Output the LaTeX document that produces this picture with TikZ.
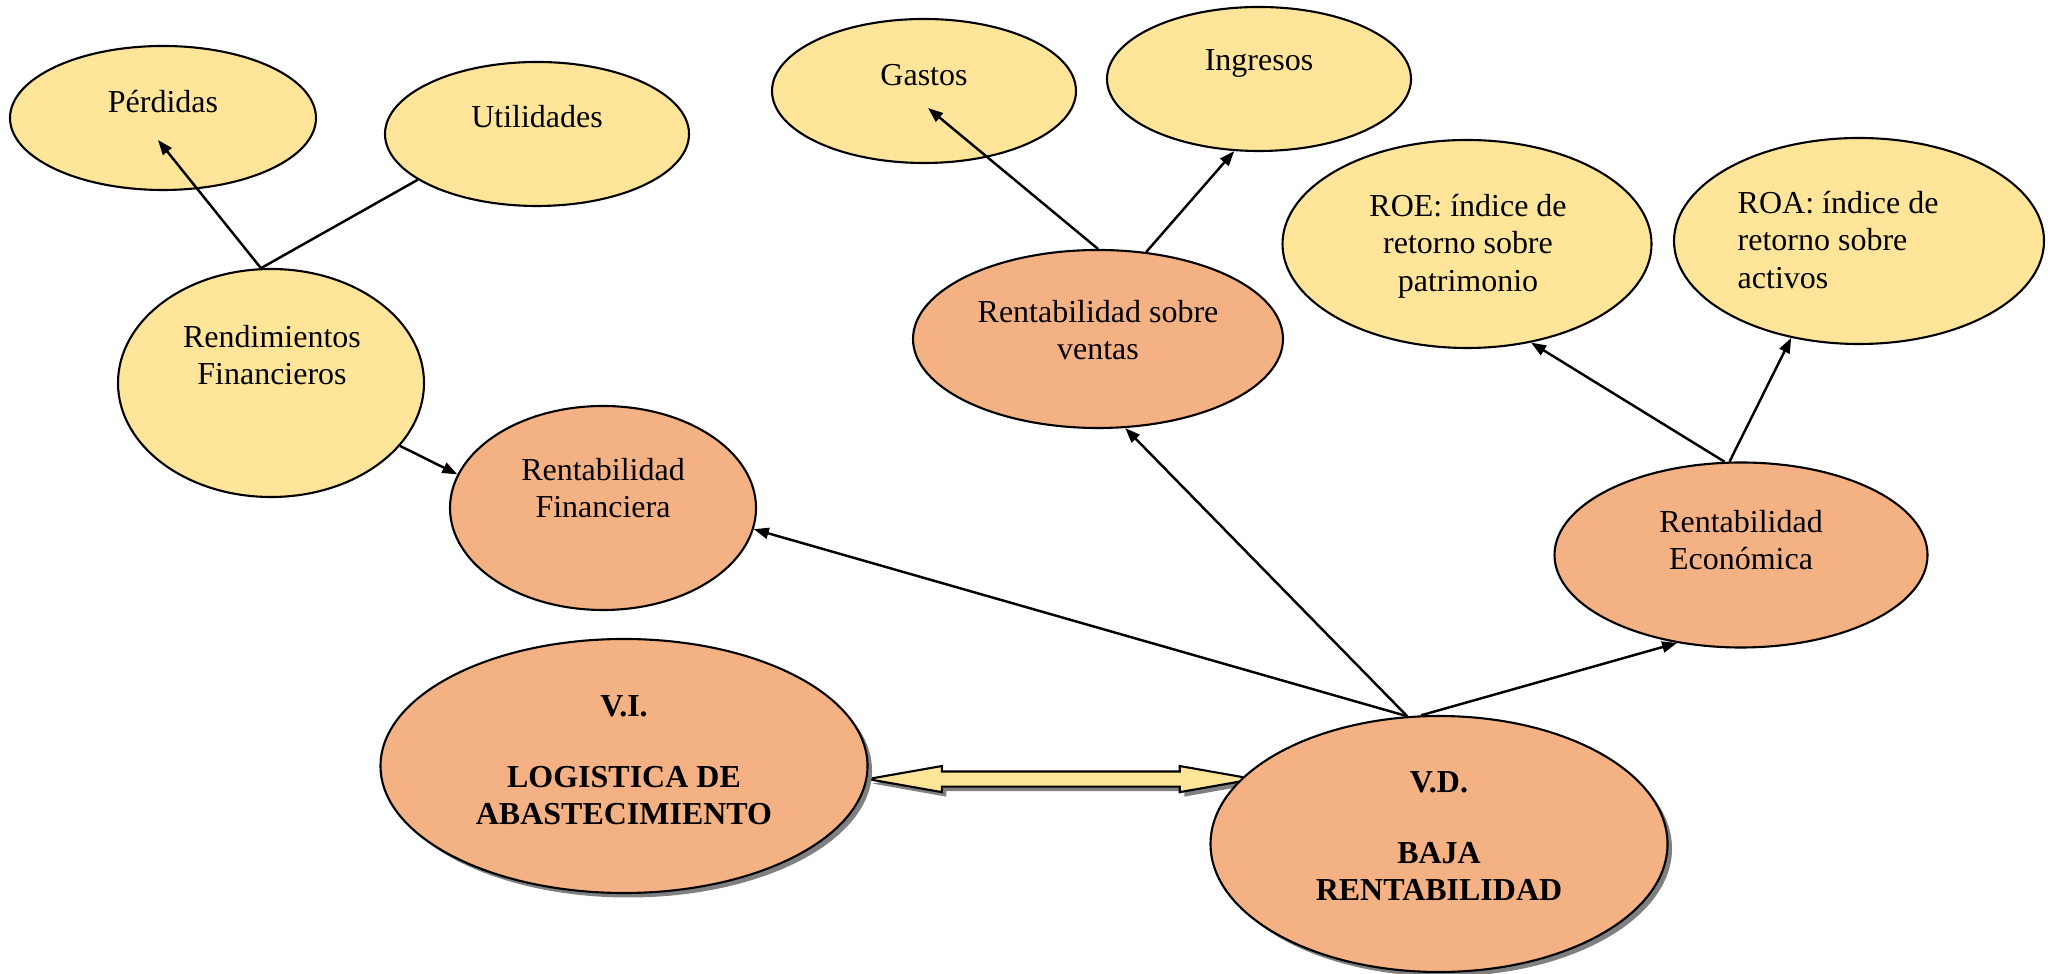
\documentclass[tikz,border=0pt]{standalone}
\usepackage{fontspec}
\setmainfont{Liberation Serif}
\usetikzlibrary{arrows.meta,calc,shapes.geometric,shapes.arrows,shadows}
\definecolor{yell}{RGB}{255,229,153}
\definecolor{salmon}{RGB}{244,177,131}
\tikzset{
    every node/.style={font=\fontsize{9.1}{10.7}\selectfont}
}
\tikzset{
    bubble/.style={ellipse, draw, line width=0.6pt, inner sep=0pt},
    yel/.style={bubble, fill=yell},
    ora/.style={bubble, fill=salmon},
    lbl/.style={align=center, inner sep=0pt},
    shadowed/.style={drop shadow={shadow xshift=0.045cm, shadow yshift=-0.045cm,
    	fill=black!50, opacity=1}}
}
\tikzset{
    every edge/.append style={line width=0.7pt},
    >={Triangle[length=0.15cm,width=0.11cm]}
}
\pgfdeclarelayer{background}
\pgfsetlayers{background,main}

\begin{document}
\begin{tikzpicture}
  \useasboundingbox (0,0) rectangle (20.59,-9.74);

  \node (perd) [yel, minimum width=3.06cm, minimum height=1.44cm] at (1.63,-1.18) {};
  \node (util) [yel, minimum width=3.04cm, minimum height=1.44cm] at (5.37,-1.34) {};
  \node (rend) [yel, minimum width=3.06cm, minimum height=2.28cm] at (2.71,-3.83) {};
  \node (rfin) [ora, minimum width=3.06cm, minimum height=2.04cm] at (6.03,-5.08) {};
  \node (gast) [yel, minimum width=3.04cm, minimum height=1.44cm] at (9.24,-0.91) {};
  \node (ingr) [yel, minimum width=3.04cm, minimum height=1.44cm] at (12.59,-0.79) {};
  \node (rsv) [ora, minimum width=3.70cm, minimum height=1.78cm] at (10.98,-3.39) {};
  \node (roe) [yel, minimum width=3.69cm, minimum height=2.08cm] at (14.67,-2.44) {};
  \node (roa) [yel, minimum width=3.70cm, minimum height=2.06cm] at (18.59,-2.41) {};
  \node (reco) [ora, minimum width=3.73cm, minimum height=1.85cm] at (17.41,-5.55) {};
  \node (vi) [ora, shadowed, minimum width=4.87cm, minimum height=2.54cm] at (6.24,-7.66) {};
  \node (vd) [ora, shadowed, minimum width=4.57cm, minimum height=2.56cm] at (14.39,-8.44) {};

  \node (Tperd) [lbl] at (1.63,-1.02) {Pérdidas};
  \node (Tutil) [lbl] at (5.37,-1.17) {Utilidades};
  \node (Trend) [lbl] at (2.72,-3.55) {Rendimientos\\Financieros};
  \node (Trfin) [lbl] at (6.03,-4.88) {Rentabilidad\\Financiera};
  \node (Tgast) [lbl] at (9.24,-0.75) {Gastos};
  \node (Tingr) [lbl] at (12.59,-0.63) {Ingresos};
  \node (Trsv) [lbl] at (10.98,-3.30) {Rentabilidad sobre\\ventas};
  \node (Troe) [lbl] at (14.68,-2.46) {ROE: índice de\\retorno sobre\\patrimonio};
  \node (Troa) [lbl, align=left, anchor=west] at (17.37,-2.40) {ROA: índice de\\retorno sobre\\activos};
  \node (Treco) [lbl] at (17.41,-5.40) {Rentabilidad\\Económica};
  \node (Tvi) [lbl, font=\fontsize{9.1}{10.7}\selectfont\bfseries] at (6.24,-7.60)
  	{V.I.\\[9.5pt]LOGISTICA DE\\ABASTECIMIENTO};
  \node (Tvd) [lbl, font=\fontsize{9.1}{10.7}\selectfont\bfseries] at (14.39,-8.36)
  	{V.D.\\[9.5pt]BAJA\\RENTABILIDAD};

  \coordinate (perd-in) at (1.58,-1.40);
  \coordinate (gast-in) at (9.28,-1.08);

  \draw (rend.95) edge [->] (perd-in);
  \draw (rend.95) edge (util.201);
  \draw (rend.-26) edge [->] (rfin.167);
  \draw (rsv.north) edge [->] (gast-in);
  \draw (rsv.61) edge [->] (ingr.251);
  \draw (reco.100) edge [->] (roe.-57);
  \draw (reco.97) edge [->] (roa.235);
  \draw (vd.104) edge [->] (rfin.-8);
  \draw (vd.104) edge [->] (rsv.-73);
  \draw (vd.98) edge [->] (reco.234);

  \begin{pgfonlayer}{background}
  \node (link) [double arrow, draw, fill=yell, line width=0.6pt, shadowed,
  	minimum height=3.86cm, minimum width=0.24cm, inner sep=0pt, inner ysep=0.065cm,
  	double arrow head extend=0.055cm, double arrow tip angle=20]
  	at ($($(vi.-3)!0.5!(vd.162)$)+(0.07,0)$) {};
  \end{pgfonlayer}
\end{tikzpicture}
\end{document}
